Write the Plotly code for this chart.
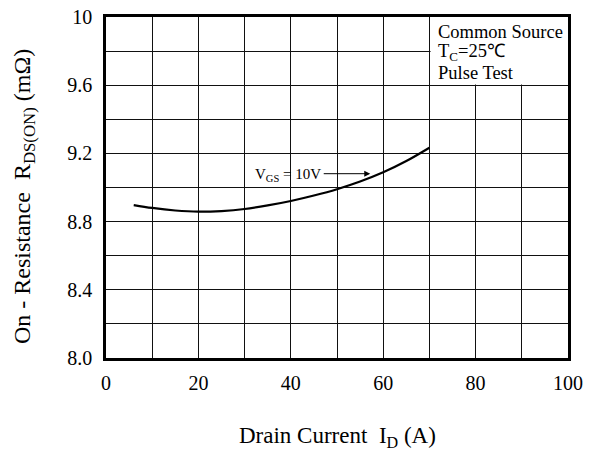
import plotly.graph_objects as go

# Data
current_a = [6, 10, 15, 20, 25, 30, 35, 40, 45, 50, 55, 60, 65, 70]
rds_on_mohm = [8.897, 8.880, 8.865, 8.858, 8.862, 8.874, 8.895, 8.921, 8.953, 8.990, 9.035, 9.089, 9.155, 9.233]

x_tickvals = [0, 20, 40, 60, 80, 100]
x_ticktext = ["0", "20", "40", "60", "80", "100"]
y_tickvals = [8.0, 8.4, 8.8, 9.2, 9.6, 10.0]
y_ticktext = ["8.0", "8.4", "8.8", "9.2", "9.6", "10"]

FONT = "Liberation Serif, Times New Roman, serif"
GRID = "#111"

fig = go.Figure()
fig.add_trace(go.Scatter(x=current_a, y=rds_on_mohm, mode="lines",
                         line=dict(color="black", width=2.2, shape="spline"),
                         showlegend=False, hoverinfo="skip"))

fig.update_layout(
    width=597, height=469,
    margin=dict(l=106, r=29, t=17, b=111),
    paper_bgcolor="white", plot_bgcolor="white",
    font=dict(family=FONT, color="black", size=20),
    xaxis=dict(range=[0, 100], tickvals=x_tickvals, ticktext=x_ticktext,
               showgrid=True, gridcolor=GRID, gridwidth=1,
               minor=dict(tick0=0, dtick=10, showgrid=True, gridcolor=GRID, gridwidth=1, ticks=""),
               showline=True, linecolor="black", linewidth=2.5, mirror=True,
               ticks="", ticklabelstandoff=5, zeroline=False, automargin=False,
               ticklabeloverflow="allow", tickfont=dict(size=20)),
    yaxis=dict(range=[8.0, 10.0], tickvals=y_tickvals, ticktext=y_ticktext,
               showgrid=True, gridcolor=GRID, gridwidth=1,
               minor=dict(tick0=8.0, dtick=0.2, showgrid=True, gridcolor=GRID, gridwidth=1, ticks=""),
               showline=True, linecolor="black", linewidth=2.5, mirror=True,
               ticks="", ticklabelstandoff=7, zeroline=False, automargin=False,
               ticklabeloverflow="allow", tickfont=dict(size=20)),
)

# axis titles
fig.add_annotation(x=0.5, y=-0.232, xref="paper", yref="paper", showarrow=False,
                   text="Drain Current  I<sub>D</sub> (A)", xanchor="center", yanchor="middle",
                   font=dict(size=23, family=FONT))
fig.add_annotation(x=-0.176, y=0.474, xref="paper", yref="paper", showarrow=False, textangle=-90,
                   text="On - Resistance  R<sub>DS(ON)</sub> (mΩ)", xanchor="center", yanchor="middle",
                   font=dict(size=24, family=FONT))

# white box for the conditions text
fig.add_shape(type="rect", xref="x", yref="y", x0=70.25, x1=100, y0=9.604, y1=10,
              fillcolor="white", line=dict(width=0), layer="between")

for txt, yy in [("Common Source", 9.913), ("T<sub>C</sub>=25℃", 9.79), ("Pulse Test", 9.672)]:
    fig.add_annotation(x=71.5, y=yy, xref="x", yref="y", text=txt, showarrow=False,
                       xanchor="left", yanchor="middle", font=dict(size=18.5, family=FONT))

fig.add_annotation(x=31.8, y=9.075, xref="x", yref="y", text="V<sub>GS</sub> = 10V",
                   showarrow=False, xanchor="left", yanchor="middle", font=dict(size=15, family=FONT))
fig.add_annotation(x=57.2, y=9.081, ax=46.8, ay=9.081, xref="x", yref="y", axref="x", ayref="y",
                   text="", showarrow=True, arrowhead=2, arrowsize=1.2, arrowwidth=1, arrowcolor="black")

# remove the page's default body margin so the figure sits at the window origin
fig.write_html("out.html", config={"displayModeBar": False},
               post_script="document.body.style.margin='0';")
